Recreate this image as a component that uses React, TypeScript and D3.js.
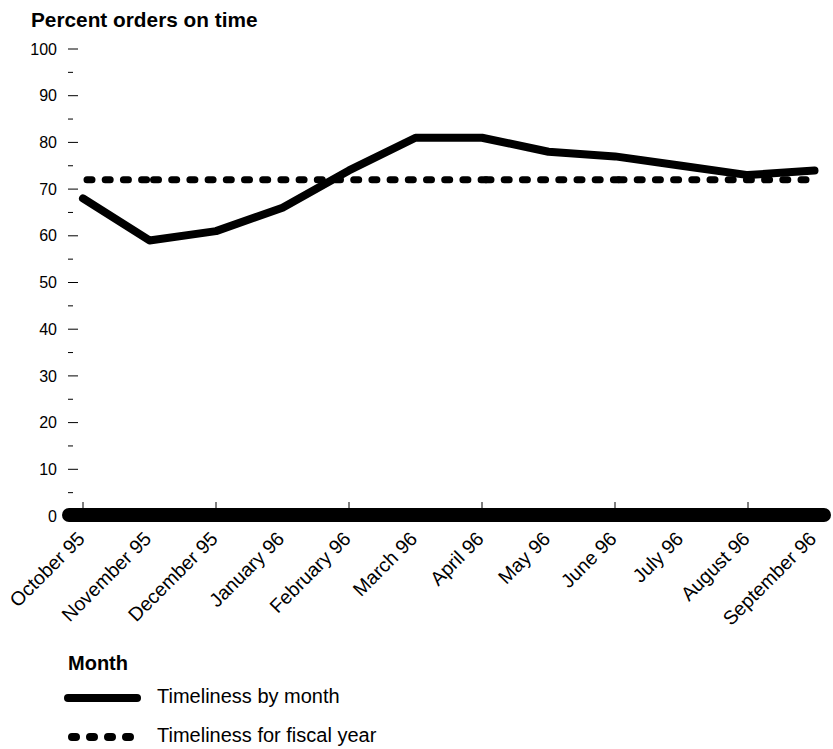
import React from "react";
import * as d3 from "d3";

const WIDTH = 833;
const HEIGHT = 749;
const MARGIN = { top: 49, right: 18, bottom: 233, left: 83 };

const months = [
  "October 95", "November 95", "December 95", "January 96",
  "February 96", "March 96", "April 96", "May 96",
  "June 96", "July 96", "August 96", "September 96",
];
const byMonth = [68, 59, 61, 66, 74, 81, 81, 78, 77, 75, 73, 74];
const fiscalYear = [72, 72, 72, 72, 72, 72, 72, 72, 72, 72, 72, 72];
// where the dotted pattern restarts in the original
const fiscalBreaks = [0, 1, 6, 8, 11];
const yTicks = [0, 10, 20, 30, 40, 50, 60, 70, 80, 90, 100];
const yMinorTicks = [5, 15, 25, 35, 45, 55, 65, 75, 85, 95];

const FONT = "'Liberation Sans', Arial, Helvetica, sans-serif";

export default function App() {
  const boundsWidth = WIDTH - MARGIN.left - MARGIN.right;
  const boundsHeight = HEIGHT - MARGIN.top - MARGIN.bottom;

  const xScale = d3.scalePoint<string>().domain(months).range([0, boundsWidth - 0.5]);
  const yScale = d3.scaleLinear().domain([0, 100]).range([boundsHeight, 0]);

  const line = d3
    .line<[number, number]>()
    .x((d) => xScale(months[d[0]]) ?? 0)
    .y((d) => yScale(d[1]));

  const y0 = yScale(0);
  const solid = byMonth.map((v, i) => [i, v] as [number, number]);
  const fiscalSegments = fiscalBreaks.slice(1).map((end, k) => {
    const start = fiscalBreaks[k];
    return fiscalYear.slice(start, end + 1).map((v, j) => [start + j, v] as [number, number]);
  });

  return (
    <svg
      width={WIDTH}
      height={HEIGHT}
      style={{ position: "absolute", left: 0, top: 0, background: "#fff" }}
      fontFamily={FONT}
    >
      <text x={31} y={27} fontSize={20.8} fontWeight="bold">
        Percent orders on time
      </text>
      <g transform={`translate(${MARGIN.left},${MARGIN.top})`}>
        {/* y axis */}
        {yTicks.map((t) => (
          <g key={t} transform={`translate(0,${yScale(t)})`}>
            {t > 0 && <line x1={-15} x2={-5} stroke="#000" strokeWidth={1} />}
            <text x={-26} dy="0.35em" textAnchor="end" fontSize={16}>
              {t}
            </text>
          </g>
        ))}
        {yMinorTicks.map((t) => (
          <line key={t} x1={-15} x2={-10} y1={yScale(t)} y2={yScale(t)} stroke="#000" strokeWidth={1} />
        ))}

        {/* x axis */}
        <line x1={-14} x2={boundsWidth + 9} y1={y0 - 1} y2={y0 - 1} stroke="#000" strokeWidth={14} strokeLinecap="round" />
        {months.map((m, i) =>
          i % 2 === 0 ? (
            <line key={m} x1={xScale(m)} x2={xScale(m)} y1={y0 - 14} y2={y0 - 7} stroke="#000" strokeWidth={1} />
          ) : null
        )}
        {months.map((m) => (
          <text
            key={m}
            transform={`translate(${(xScale(m) ?? 0) + 3},${y0 + 24}) rotate(-45)`}
            textAnchor="end"
            fontSize={19.5}
          >
            {m}
          </text>
        ))}

        {/* series */}
        {fiscalSegments.map((seg, k) => (
          <path
            key={k}
            d={line(seg) ?? ""}
            fill="none"
            stroke="#000"
            strokeWidth={7}
            strokeDasharray="5 13.2"
            strokeLinecap="round"
            transform="translate(4,0)"
          />
        ))}
        <path
          d={line(solid) ?? ""}
          fill="none"
          stroke="#000"
          strokeWidth={8}
          strokeLinejoin="round"
          strokeLinecap="round"
        />
      </g>

      {/* legend */}
      <g>
        <text x={68} y={670} fontSize={20} fontWeight="bold">
          Month
        </text>
        <line x1={68} x2={137} y1={698} y2={698} stroke="#000" strokeWidth={8} strokeLinecap="round" />
        <text x={157} y={703} fontSize={20}>
          Timeliness by month
        </text>
        <line x1={72} x2={132} y1={737} y2={737} stroke="#000" strokeWidth={8} strokeDasharray="4 14" strokeLinecap="round" />
        <text x={157} y={742} fontSize={20}>
          Timeliness for fiscal year
        </text>
      </g>
    </svg>
  );
}
